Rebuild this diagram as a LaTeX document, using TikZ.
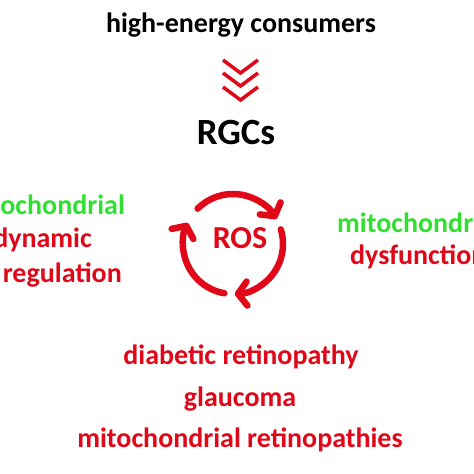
\documentclass[tikz,border=0pt]{standalone}
\usepackage{fontspec}
\setmainfont{Carlito}
\usepackage{xcolor}
\usetikzlibrary{arrows.meta}
\definecolor{rosred}{RGB}{224,8,24}
\definecolor{mitogreen}{RGB}{48,224,48}

\begin{document}
\begin{tikzpicture}[
  x=1pt, y=1pt,
  every node/.style={inner sep=0pt, font=\bfseries\fontsize{28}{32}\selectfont},
  red text/.style={text=rosred},
  green text/.style={text=mitogreen},
  ring/.style={draw=rosred, line width=6.5pt, line cap=round,
    -{Straight Barb[length=9pt, width=24pt, line cap=round, line join=round]}},
  chevron/.style={draw=rosred, line width=3.5pt}
]
\useasboundingbox (0,0) rectangle (474,474);
\clip (0,0) rectangle (474,474);
\fill[white] (0,0) rectangle (474,474);

\node[anchor=base] (hec) at (241,441) {high-energy consumers};
\node[anchor=base, font=\bfseries\fontsize{37}{40}\selectfont] (rgcs) at (236,329) {RGCs};
\foreach \y in {414,401,387}
  \draw[chevron] (223,\y) -- (240.5,\y-13) -- (258,\y);

\node[red text, font=\bfseries\fontsize{32}{36}\selectfont] (ros) at (240,236) {ROS};
\coordinate (c) at (233,230);
\draw[ring] (c) ++(135:50) arc[start angle=135, end angle=30, radius=50];
\draw[ring] (c) ++(17:50) arc[start angle=17, end angle=-88, radius=50];
\draw[ring] (c) ++(-100:50) arc[start angle=260, end angle=155, radius=50];

\node[green text, anchor=base east] (dyn1) at (125,259) {mitochondrial};
\node[red text, anchor=base east] (dyn2) at (92,226) {dynamic};
\node[red text, anchor=base east] (dyn3) at (122,191) {regulation};

\node[green text, anchor=base west] (dys1) at (337,241) {mitochondrial};
\node[red text, anchor=base west] (dys2) at (350,209) {dysfunction};

\node[red text, anchor=base] (dr) at (241,109) {diabetic retinopathy};
\node[red text, anchor=base] (gl) at (240,67) {glaucoma};
\node[red text, anchor=base] (mr) at (240,26) {mitochondrial retinopathies};
\end{tikzpicture}
\end{document}
